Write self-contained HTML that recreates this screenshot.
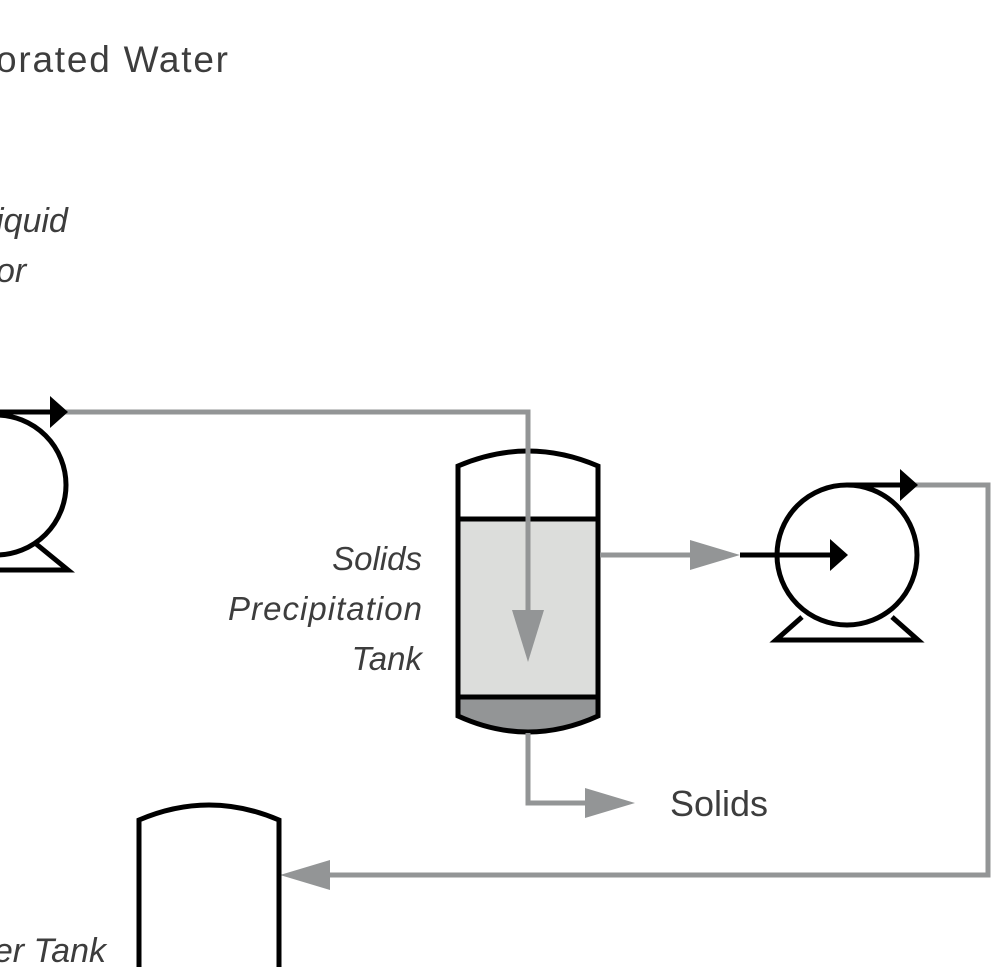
<!DOCTYPE html>
<html><head><style>
html,body{margin:0;padding:0;background:#fff;}
svg{display:block;}
text{font-family:"Liberation Sans",sans-serif;fill:#3d3d3d;}
</style></head><body>
<svg width="995" height="967" viewBox="0 0 995 967" xmlns="http://www.w3.org/2000/svg">
<text x="-4" y="72" font-size="37" textLength="232">orated Water</text>
<text x="-4" y="232" font-size="34" font-style="italic">iquid</text>
<text x="-4" y="282" font-size="34" font-style="italic">or</text>
<text x="106" y="962" font-size="34" font-style="italic" text-anchor="end">er Tank</text>
<g font-size="33" font-style="italic" text-anchor="end">
<text x="422" y="570">Solids</text>
<text x="422" y="620" textLength="194">Precipitation</text>
<text x="422" y="670">Tank</text>
</g>
<text x="670" y="816" font-size="36">Solids</text>

<path d="M458 519 H598 V697 H458 Z" fill="#dcdddb"/>
<path d="M458 697 H598 V716 Q528 748 458 716 Z" fill="#939596"/>
<path d="M458 466 Q528 436 598 466 V716 Q528 748 458 716 Z" fill="none" stroke="#000" stroke-width="5"/>
<line x1="458" y1="519" x2="598" y2="519" stroke="#000" stroke-width="5"/>
<line x1="458" y1="697" x2="598" y2="697" stroke="#000" stroke-width="5"/>

<g stroke="#939596" stroke-width="5" fill="none">
<path d="M62 412 H528 V615"/>
<path d="M600 555 H695"/>
<path d="M528 733 V803 H590"/>
<path d="M915 485 H988 V875 H325"/>
</g>
<g fill="#939596">
<polygon points="512,610 544,610 528,662"/>
<polygon points="690,540 740,555 690,570"/>
<polygon points="585,788 635,803 585,818"/>
<polygon points="330,860 280,875 330,890"/>
</g>

<g stroke="#000" stroke-width="5" fill="none">
<circle cx="-4" cy="485" r="70"/>
<path d="M-4 412 H52"/>
<path d="M35 543 L68 570 H-10"/>
</g>
<polygon points="50,396 68,412 50,428" fill="#000"/>

<g stroke="#000" stroke-width="5" fill="none">
<circle cx="847" cy="555" r="70"/>
<path d="M740 555 H835"/>
<path d="M847 485 H902"/>
<path d="M802 617 L776 640 H918 L892 617"/>
</g>
<polygon points="830,539 848,555 830,571" fill="#000"/>
<polygon points="900,469 918,485 900,501" fill="#000"/>

<path d="M139 967 V820 Q209 790 279 820 V967" fill="none" stroke="#000" stroke-width="5"/>
</svg>
</body></html>
